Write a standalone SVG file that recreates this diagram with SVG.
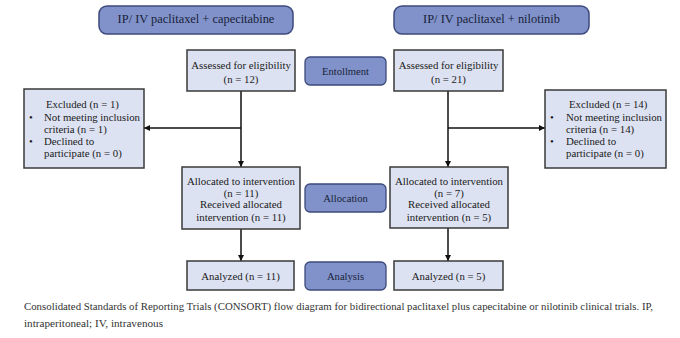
<svg xmlns="http://www.w3.org/2000/svg" width="680" height="338" viewBox="0 0 680 338">
<style>
.hdr{fill:#8092c9;stroke:#3d4a7c;stroke-width:1.5}
.lbl{fill:#8092c9;stroke:#3d4a7c;stroke-width:1.3}
.box{fill:#dde2f2;stroke:#3a3a3a;stroke-width:1.5}
.t{font-family:"Liberation Serif","Times New Roman",serif;font-size:10.8px;fill:#1a1a1a}
.th{font-family:"Liberation Serif","Times New Roman",serif;font-size:12.4px;fill:#1a1f3a}
.tl{font-family:"Liberation Serif","Times New Roman",serif;font-size:10.6px;fill:#1a1f3a}
.c{text-anchor:middle}
.cap{font-family:"Liberation Serif","Times New Roman",serif;font-size:11.2px;fill:#333}
.ln{stroke:#111;stroke-width:1.5;fill:none}
</style>
<defs>
<marker id="ah" viewBox="0 0 10 10" refX="10" refY="5" markerWidth="6" markerHeight="6" markerUnits="userSpaceOnUse" orient="auto">
<path d="M0,0 L10,5 L0,10 z" fill="#111"/>
</marker>
</defs>
<g id="connectors">
<line class="ln" x1="241" y1="91" x2="241" y2="167" marker-end="url(#ah)"/>
<line class="ln" x1="241" y1="128" x2="144" y2="128" marker-end="url(#ah)"/>
<line class="ln" x1="241" y1="229" x2="241" y2="261" marker-end="url(#ah)"/>
<line class="ln" x1="448" y1="91" x2="448" y2="167" marker-end="url(#ah)"/>
<line class="ln" x1="448" y1="128" x2="545" y2="128" marker-end="url(#ah)"/>
<line class="ln" x1="448" y1="228" x2="448" y2="261" marker-end="url(#ah)"/>
</g>
<g id="header-left">
<rect class="hdr" x="99" y="6" width="194" height="28" rx="8"/>
<text class="th c" x="196" y="22.5">IP/ IV paclitaxel + capecitabine</text>
</g>
<g id="header-right">
<rect class="hdr" x="394" y="6" width="195" height="28" rx="8"/>
<text class="th c" x="491.5" y="22.5">IP/ IV paclitaxel + nilotinib</text>
</g>
<g id="assessed-left">
<rect class="box" x="187" y="50" width="108" height="41"/>
<text class="t c" x="241" y="68.5">Assessed for eligibility</text>
<text class="t c" x="241" y="82.5">(n = 12)</text>
</g>
<g id="assessed-right">
<rect class="box" x="394" y="50" width="109" height="41"/>
<text class="t c" x="448.5" y="68.5">Assessed for eligibility</text>
<text class="t c" x="448.5" y="82.5">(n = 21)</text>
</g>
<g id="label-enrollment">
<rect class="lbl" x="305" y="57" width="81" height="28" rx="5"/>
<text class="tl c" x="345.5" y="74.5">Entollment</text>
</g>
<g id="excluded-left">
<rect class="box" x="24" y="89" width="120" height="79"/>
<text class="t" x="46" y="108">Excluded (n = 1)</text>
<text class="t" x="29" y="121">•</text>
<text class="t" x="44" y="121">Not meeting inclusion</text>
<text class="t" x="44" y="133">criteria (n = 1)</text>
<text class="t" x="29" y="145">•</text>
<text class="t" x="44" y="145">Declined to</text>
<text class="t" x="44" y="157">participate (n = 0)</text>
</g>
<g id="excluded-right">
<rect class="box" x="545" y="90" width="121" height="78"/>
<text class="t" x="569" y="108">Excluded (n = 14)</text>
<text class="t" x="550" y="121">•</text>
<text class="t" x="566" y="121">Not meeting inclusion</text>
<text class="t" x="566" y="133">criteria (n = 14)</text>
<text class="t" x="550" y="145">•</text>
<text class="t" x="566" y="145">Declined to</text>
<text class="t" x="566" y="157">participate (n = 0)</text>
</g>
<g id="allocated-left">
<rect class="box" x="182" y="167" width="118" height="62"/>
<text class="t c" x="241" y="184.5">Allocated to intervention</text>
<text class="t c" x="241" y="197">(n = 11)</text>
<text class="t c" x="241" y="208">Received allocated</text>
<text class="t c" x="241" y="221">intervention (n = 11)</text>
</g>
<g id="allocated-right">
<rect class="box" x="390" y="167" width="118" height="61"/>
<text class="t c" x="449" y="184.5">Allocated to intervention</text>
<text class="t c" x="449" y="197">(n = 7)</text>
<text class="t c" x="449" y="208">Received allocated</text>
<text class="t c" x="449" y="221">intervention (n = 5)</text>
</g>
<g id="label-allocation">
<rect class="lbl" x="305" y="184" width="81" height="28" rx="5"/>
<text class="tl c" x="345.5" y="201.5">Allocation</text>
</g>
<g id="analyzed-left">
<rect class="box" x="187" y="261" width="107" height="29"/>
<text class="t c" x="240.5" y="279.5">Analyzed (n = 11)</text>
</g>
<g id="analyzed-right">
<rect class="box" x="394" y="261" width="109" height="29"/>
<text class="t c" x="448.5" y="279.5">Analyzed (n = 5)</text>
</g>
<g id="label-analysis">
<rect class="lbl" x="305" y="262" width="81" height="28" rx="5"/>
<text class="tl c" x="345.5" y="279.5">Analysis</text>
</g>
<g id="caption">
<text class="cap" x="24" y="310" textLength="629" lengthAdjust="spacingAndGlyphs">Consolidated Standards of Reporting Trials (CONSORT) flow diagram for bidirectional paclitaxel plus capecitabine or nilotinib clinical trials. IP,</text>
<text class="cap" x="24" y="327" textLength="139" lengthAdjust="spacingAndGlyphs">intraperitoneal; IV, intravenous</text>
</g>
</svg>
